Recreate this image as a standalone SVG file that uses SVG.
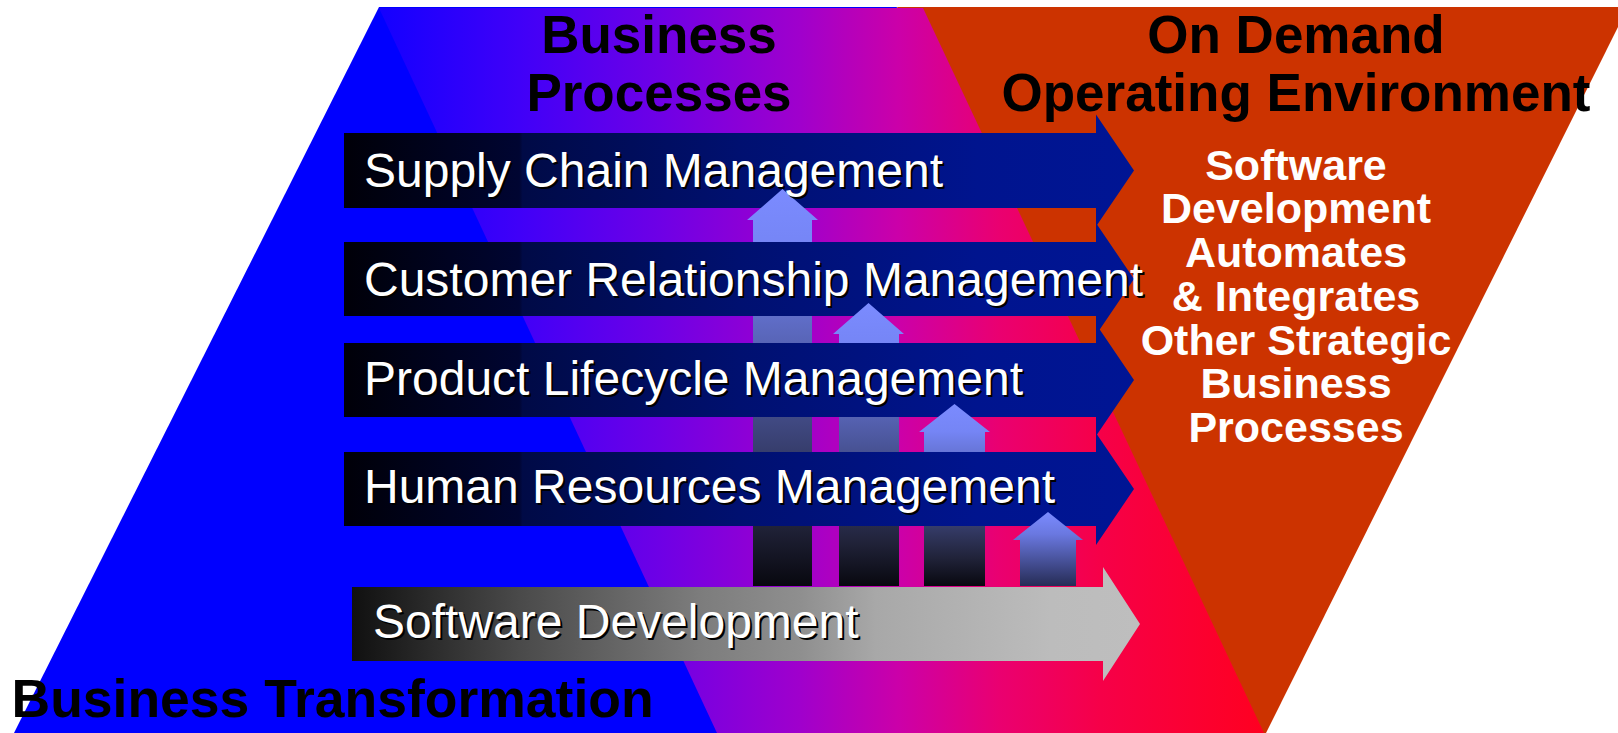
<svg xmlns="http://www.w3.org/2000/svg" width="1618" height="733" viewBox="0 0 1618 733">
  <style>
    .lbl { font-family: "Liberation Sans", Arial, Helvetica, sans-serif; font-size: 48px; fill: #ffffff; }
    .shd { font-family: "Liberation Sans", Arial, Helvetica, sans-serif; font-size: 48px; fill: #000000; }
    .head { font-family: "Liberation Sans", Arial, Helvetica, sans-serif; font-size: 53px; font-weight: bold; fill: #000000; text-anchor: middle; }
    .side { font-family: "Liberation Sans", Arial, Helvetica, sans-serif; font-size: 43px; font-weight: bold; fill: #ffffff; text-anchor: middle; }
    .band { fill: url(#bandGrad); }
    .up { fill: url(#upGrad); }
  </style>
  <defs>
    <linearGradient id="bgGrad" gradientUnits="userSpaceOnUse" x1="380" y1="0" x2="1265" y2="0">
      <stop offset="0" stop-color="#1400FF"/>
      <stop offset="0.158" stop-color="#4000F8"/>
      <stop offset="0.316" stop-color="#6E00E6"/>
      <stop offset="0.475" stop-color="#A000CC"/>
      <stop offset="0.588" stop-color="#CC00A8"/>
      <stop offset="0.70" stop-color="#EA0070"/>
      <stop offset="0.814" stop-color="#F60048"/>
      <stop offset="1" stop-color="#FF0020"/>
    </linearGradient>
    <linearGradient id="bandGrad" x1="0" y1="0" x2="1" y2="0">
      <stop offset="0" stop-color="#000008"/>
      <stop offset="0.222" stop-color="#000532"/>
      <stop offset="0.226" stop-color="#000A46"/>
      <stop offset="0.5" stop-color="#001070"/>
      <stop offset="0.8" stop-color="#00148E"/>
      <stop offset="1" stop-color="#001594"/>
    </linearGradient>
    <linearGradient id="sdGrad" x1="0" y1="0" x2="1" y2="0">
      <stop offset="0" stop-color="#101010"/>
      <stop offset="0.213" stop-color="#4A4A4A"/>
      <stop offset="0.44" stop-color="#7C7C7C"/>
      <stop offset="0.57" stop-color="#8F8F8F"/>
      <stop offset="0.665" stop-color="#A8A8A8"/>
      <stop offset="0.887" stop-color="#BCBCBC"/>
      <stop offset="1" stop-color="#BEBEBE"/>
    </linearGradient>
    <linearGradient id="upGrad" x1="0" y1="0" x2="0" y2="1">
      <stop offset="0" stop-color="#7B8BFF"/>
      <stop offset="0.15" stop-color="#7585F5"/>
      <stop offset="0.5" stop-color="#4A5599"/>
      <stop offset="0.85" stop-color="#202238"/>
      <stop offset="1" stop-color="#08080F"/>
    </linearGradient>
    <linearGradient id="upGrad4" x1="0" y1="0" x2="0" y2="1">
      <stop offset="0" stop-color="#7B8BFF"/>
      <stop offset="0.3" stop-color="#6A78E0"/>
      <stop offset="1" stop-color="#262C55"/>
    </linearGradient>
  </defs>

  <g id="background">
    <polygon points="379,7 897,7 717,733 14,733" fill="#0000FF"/>
    <polygon points="897,7 1628,7 1266,733 1262,733" fill="#CC3300"/>
    <polygon points="379,8 923,8 1264,733 717,733" fill="url(#bgGrad)"/>
  </g>

  <g id="connectors">
    <g id="band-scm">
      <polygon class="band" points="344,133 1096,133 1096,114.5 1134,170.5 1096,226.5 1096,208 344,208"/>
    </g>
    <g id="arrow-up-1">
      <polygon class="up" points="753,586 753,220 747,220 782.5,189 818,220 812,220 812,586"/>
    </g>
    <g id="band-crm">
      <polygon class="band" points="344,242 1096,242 1096,223 1134,279 1096,335 1096,316 344,316"/>
    </g>
    <g id="arrow-up-2">
      <polygon class="up" points="839,586 839,334 833,334 868.5,303 904,334 899,334 899,586"/>
    </g>
    <g id="band-plm">
      <polygon class="band" points="344,343 1096,343 1096,324 1134,380 1096,436 1096,417 344,417"/>
    </g>
    <g id="arrow-up-3">
      <polygon class="up" points="924,586 924,432 919,432 954.5,404 990,432 985,432 985,586"/>
    </g>
    <g id="band-hrm">
      <polygon class="band" points="344,452 1096,452 1096,433 1134,489 1096,545 1096,526 344,526"/>
    </g>
    <g id="arrow-up-4">
      <polygon fill="url(#upGrad4)" points="1020,586 1020,540 1013,540 1048,512 1083,540 1076,540 1076,586"/>
    </g>
    <g id="band-sd">
      <polygon fill="url(#sdGrad)" points="352,587 1103,587 1103,567 1140,624 1103,681 1103,661 352,661"/>
    </g>
  </g>

  <g id="node-scm">
    <text class="shd" x="366" y="189">Supply Chain Management</text>
    <text class="lbl" x="364" y="187">Supply Chain Management</text>
  </g>
  <g id="node-crm">
    <text class="shd" x="366" y="298">Customer Relationship Management</text>
    <text class="lbl" x="364" y="296">Customer Relationship Management</text>
  </g>
  <g id="node-plm">
    <text class="shd" x="366" y="397">Product Lifecycle Management</text>
    <text class="lbl" x="364" y="395">Product Lifecycle Management</text>
  </g>
  <g id="node-hrm">
    <text class="shd" x="366" y="505">Human Resources Management</text>
    <text class="lbl" x="364" y="503">Human Resources Management</text>
  </g>
  <g id="node-sd">
    <text class="shd" x="375" y="640">Software Development</text>
    <text class="lbl" x="373" y="638">Software Development</text>
  </g>

  <g id="title-business-processes">
    <text class="head" x="659" y="53">Business</text>
    <text class="head" x="659" y="111">Processes</text>
  </g>
  <g id="title-on-demand">
    <text class="head" x="1296" y="53">On Demand</text>
    <text class="head" x="1296" y="111">Operating Environment</text>
  </g>
  <g id="side-text">
    <text class="side" x="1296" y="180">Software</text>
    <text class="side" x="1296" y="223">Development</text>
    <text class="side" x="1296" y="267">Automates</text>
    <text class="side" x="1296" y="311">&amp; Integrates</text>
    <text class="side" x="1296" y="355">Other Strategic</text>
    <text class="side" x="1296" y="398">Business</text>
    <text class="side" x="1296" y="442">Processes</text>
  </g>
  <g id="title-business-transformation">
    <text x="11.5" y="717" style="font-family: 'Liberation Sans', Arial, Helvetica, sans-serif; font-size: 53.5px; font-weight: bold; fill: #000000;">Business Transformation</text>
  </g>
</svg>
